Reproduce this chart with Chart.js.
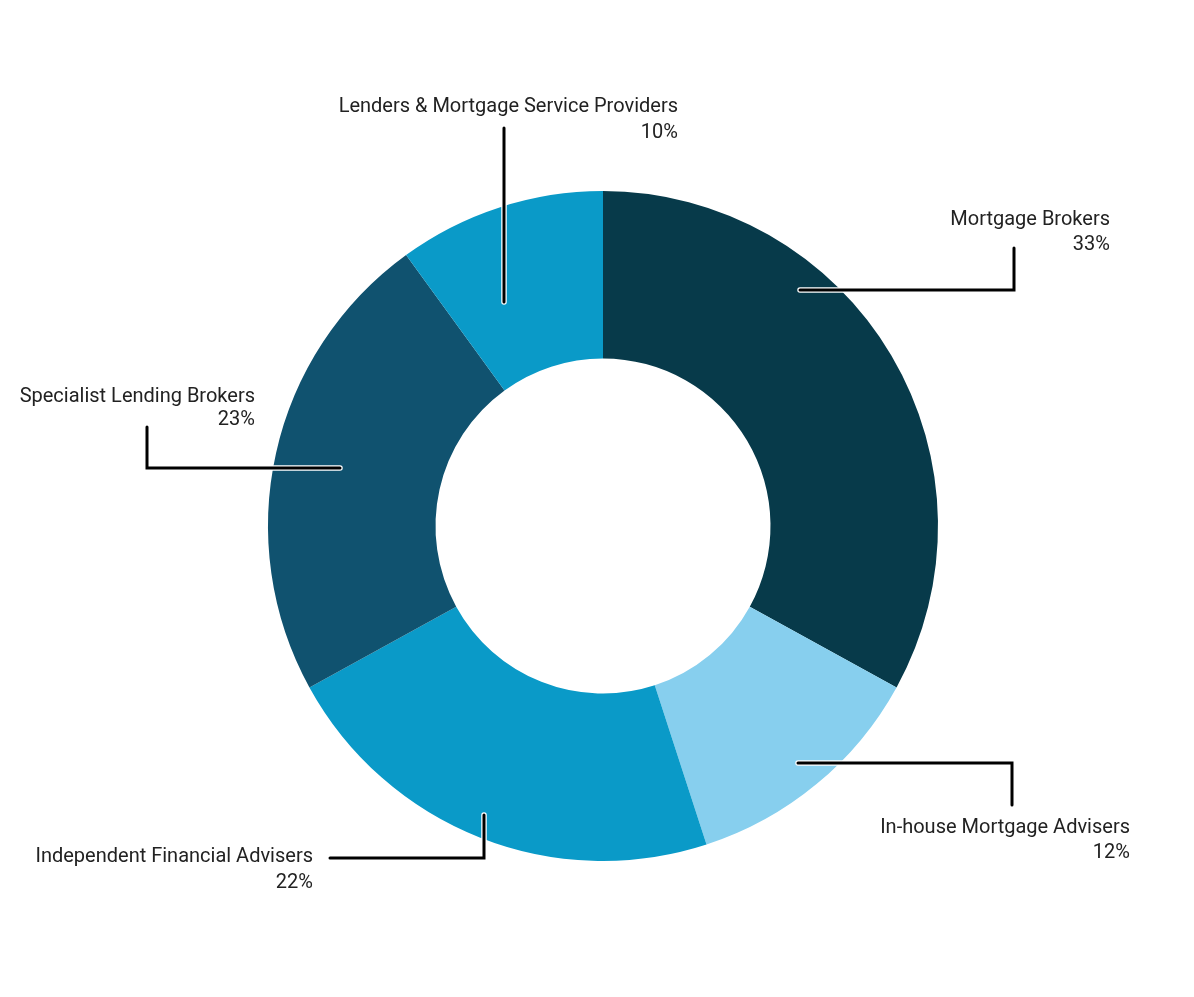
<!DOCTYPE html>
<html>
<head>
<meta charset="utf-8">
<script src="https://cdn.jsdelivr.net/npm/chart.js@4"></script>
<style>
  html, body { margin: 0; padding: 0; background: #ffffff; }
  #wrap { width: 1194px; height: 997px; }
</style>
</head>
<body>
<div id="wrap"><canvas id="c" width="1194" height="997"></canvas></div>
<script>
// ---- data ----
const categories = [
  "Mortgage Brokers",
  "In-house Mortgage Advisers",
  "Independent Financial Advisers",
  "Specialist Lending Brokers",
  "Lenders & Mortgage Service Providers"
];
const shares = [33, 12, 22, 23, 10];
const sliceColors = ["#073a4a", "#87cfee", "#0a9ac8", "#10526f", "#0a9ac8"];

// ---- leader-line layout (offsets from the doughnut centre, px) ----
const leaderLayout = [
  { pts: [[197, -236], [411, -236], [411, -278]], labelX: 507, baselines: [-301, -276] },
  { pts: [[195, 237], [409, 237], [409, 279]], labelX: 527, baselines: [307, 332] },
  { pts: [[-119, 289], [-119, 332], [-273, 332]], labelX: -290, baselines: [336, 362] },
  { pts: [[-263, -58], [-456, -58], [-456, -99]], labelX: -348, baselines: [-124, -101] },
  { pts: [[-99, -224], [-99, -398]], labelX: 75, baselines: [-414, -388] }
];

const leaderPlugin = {
  id: 'leaders',
  afterDatasetsDraw(chart) {
    const ctx = chart.ctx;
    const meta = chart.getDatasetMeta(0);
    meta.data.forEach((arc, i) => {
      const L = leaderLayout[i];
      const cx = arc.x, cy = arc.y;
      const path = () => {
        ctx.beginPath();
        L.pts.forEach((p, k) => {
          const x = cx + p[0], y = cy + p[1];
          if (k === 0) ctx.moveTo(x, y); else ctx.lineTo(x, y);
        });
      };
      ctx.save();
      ctx.lineCap = 'round';
      ctx.lineJoin = 'miter';
      path();
      ctx.strokeStyle = '#ffffff';
      ctx.lineWidth = 5.5;
      ctx.stroke();
      path();
      ctx.strokeStyle = '#000000';
      ctx.lineWidth = 3;
      ctx.stroke();
      ctx.fillStyle = '#222222';
      ctx.font = '20px Roboto, "DejaVu Sans Condensed", sans-serif';
      ctx.textAlign = 'right';
      ctx.textBaseline = 'alphabetic';
      ctx.fillText(chart.data.labels[i], cx + L.labelX, cy + L.baselines[0]);
      ctx.fillText(chart.data.datasets[0].data[i] + '%', cx + L.labelX, cy + L.baselines[1]);
      ctx.restore();
    });
  }
};

new Chart(document.getElementById('c'), {
  type: 'doughnut',
  data: {
    labels: categories,
    datasets: [{
      data: shares,
      backgroundColor: sliceColors,
      borderWidth: 0,
      hoverOffset: 0
    }]
  },
  options: {
    responsive: false,
    animation: false,
    cutout: '50%',
    layout: { padding: { top: 191, bottom: 136, left: 268, right: 256 } },
    plugins: {
      legend: { display: false },
      tooltip: { enabled: false }
    }
  },
  plugins: [leaderPlugin]
});
</script>
</body>
</html>
